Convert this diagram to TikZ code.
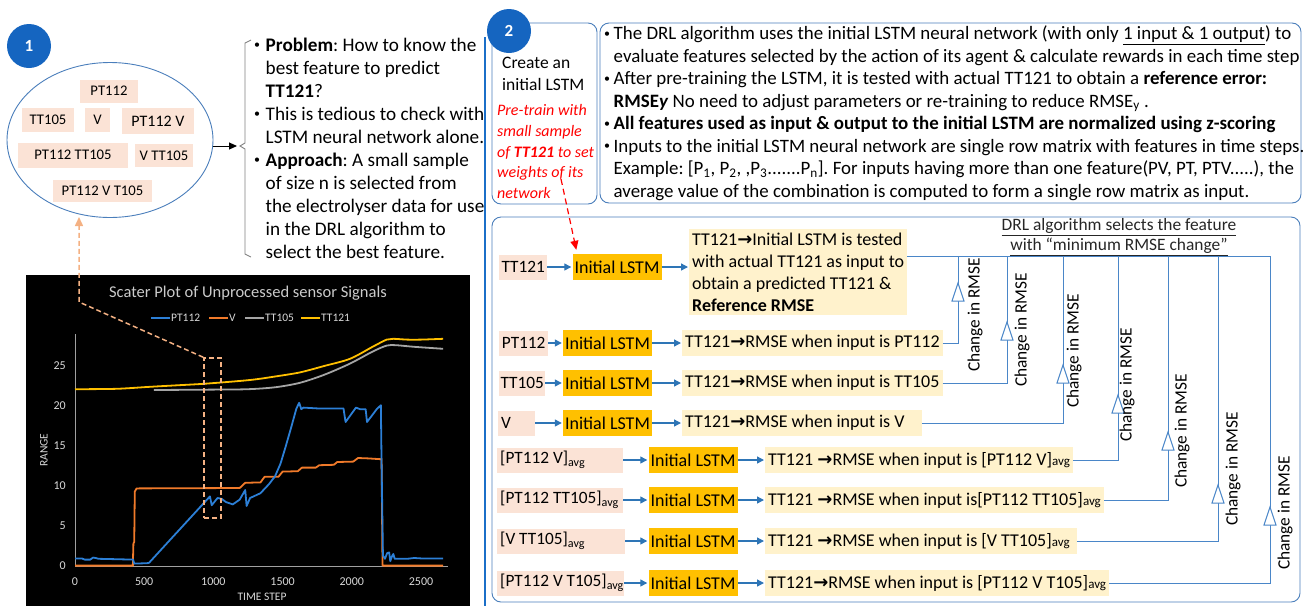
\documentclass[tikz,border=0pt]{standalone}
\usepackage{fontspec}
\setmainfont{Carlito}
\newfontfamily\arrowfont{DejaVu Sans}
\usetikzlibrary{arrows.meta,shapes.geometric}

\definecolor{pinkfill}{HTML}{FBE3D6}
\definecolor{lstmfill}{HTML}{FFC000}
\definecolor{descfill}{HTML}{FFF2CC}
\definecolor{arrowblue}{HTML}{2E75B6}
\definecolor{connblue}{HTML}{4A86C8}
\definecolor{panelblue}{HTML}{4A7EBB}
\definecolor{discblue}{HTML}{1565C0}
\definecolor{edgeblue}{HTML}{1B6FC8}
\definecolor{peach}{HTML}{F4B183}
\definecolor{chartblue}{HTML}{2C7FD6}
\definecolor{chartorange}{HTML}{F07A2A}
\definecolor{chartgray}{HTML}{A5A5A5}
\definecolor{chartyellow}{HTML}{FFC000}
\definecolor{axisgray}{HTML}{A0A0A0}
\definecolor{ticktext}{HTML}{D9D9D9}
\definecolor{bracketgray}{HTML}{808080}
\definecolor{redtext}{HTML}{FF0000}
\definecolor{headgray}{HTML}{262626}

\newcommand\myfs[2]{\fontsize{#1}{#2}\selectfont}
\newcommand\featarrow{{\arrowfont\bfseries\char"2192}}
\newcommand\avgtext{{\myfs{13}{13}avg}}
\newcommand\bulw[1]{\makebox[#1][l]{\raisebox{0.12em}{\myfs{12}{12}\textbullet}}}

\begin{document}
\frenchspacing
\begin{tikzpicture}[x=1pt,y=-1pt,
  lblbox/.style={fill=pinkfill, inner xsep=3pt, inner ysep=0pt, minimum height=25pt, font={\myfs{17.3}{20}}, anchor=west},
  lstmbox/.style={fill=lstmfill, minimum width=89pt, minimum height=26pt, inner sep=0pt, font={\myfs{18}{20}}},
  descbox/.style={fill=descfill, inner xsep=3pt, inner ysep=0pt, minimum height=26pt, anchor=west, font={\myfs{18}{22}}, align=left},
  rowarrow/.style={draw=arrowblue, line width=1.3pt, shorten >=1pt, -{Triangle[length=7pt,width=7pt]}},
  conn/.style={draw=connblue, line width=1pt},
  rmsetag/.style={rotate=90, font={\myfs{17.3}{20}}, inner sep=0pt},
  featbox/.style={fill=pinkfill, inner sep=0pt, font={\myfs{14.7}{17}}},
  numdisc/.style={circle, fill=discblue, text=white, font={\myfs{17}{20}\bfseries}, minimum size=44pt, inner sep=0pt},
  panel/.style={draw=panelblue, line width=0.9pt, rounded corners=9pt, inner sep=0pt},
  peachline/.style={draw=peach, line width=1.5pt, dash pattern=on 5pt off 3pt},
  ticklbl/.style={text=ticktext, font={\myfs{12}{14}}, inner sep=0pt},
  legtext/.style={text=ticktext, font={\myfs{11.5}{13}}, inner sep=1pt, anchor=west}
]
\useasboundingbox (0,0) rectangle (1304,606);

% ---------------- panel 1: candidate features ----------------
\node[draw=panelblue, ellipse, minimum width=206pt, minimum height=155pt, line width=0.9pt] (ell) at (110,140) {};
\node[numdisc] (n1) at (29,46) {1};

\node[featbox, minimum width=58pt, minimum height=23pt] (f1) at (109,91) {PT112};
\node[featbox, minimum width=52pt, minimum height=24pt] (f2) at (48,120) {TT105};
\node[featbox, minimum width=25pt, minimum height=24pt] (f3) at (97.5,120) {V};
\node[featbox, minimum width=72pt, minimum height=26pt, font={\myfs{16}{18}}] (f4) at (158,121) {PT112 V};
\node[featbox, minimum width=110pt, minimum height=25pt] (f5) at (73,155) {PT112 TT105};
\node[featbox, minimum width=58pt, minimum height=23pt] (f6) at (164,155.5) {V TT105};
\node[featbox, minimum width=99pt, minimum height=22pt] (f7) at (102.5,191) {PT112 V T105};

\coordinate (brk) at (237,146);
\draw[line width=1pt, -{Triangle[length=8pt,width=7pt]}] (ell.east |- brk) -- (brk);
\draw[bracketgray, line width=0.9pt] (251,40) -- (245,43) -- (245,143) -- (240,146) -- (245,149) -- (245,254) -- (251,257);

\node[anchor=west, align=left, inner sep=0pt, font={\myfs{19.2}{23}}] (probtext) at (254,148) {%
\bulw{11.5pt}\textbf{Problem}: How to know the\\
\hspace*{11.5pt}best feature to predict\\
\hspace*{11.5pt}\textbf{TT121}?\\
\bulw{11.5pt}This is tedious to check with\\
\hspace*{11.5pt}LSTM neural network alone.\\
\bulw{11.5pt}\textbf{Approach}: A small sample\\
\hspace*{11.5pt}of size n is selected from\\
\hspace*{11.5pt}the electrolyser data for use\\
\hspace*{11.5pt}in the DRL algorithm to\\
\hspace*{11.5pt}select the best feature.};

% ---------------- sensor chart ----------------
\fill[black] (26,275) rectangle (470,606);
\node[text=ticktext!85!gray, font={\myfs{16.5}{18}}] (ctitle) at (248,293) {Scater Plot of Unprocessed sensor Signals};
\draw[chartblue, line width=2pt] (151,318) -- (170,318);
\node[legtext] (lg1) at (170,318) {PT112};
\draw[chartorange, line width=2pt] (209,318) -- (228,318);
\node[legtext] (lg2) at (228,318) {V};
\draw[chartgray, line width=2pt] (245,318) -- (264,318);
\node[legtext] (lg3) at (264,318) {TT105};
\draw[chartyellow, line width=2pt] (301,318) -- (320,318);
\node[legtext] (lg4) at (320,318) {TT121};
\node[text=ticktext, font={\myfs{11.5}{13}}, rotate=90] (ylab) at (44,450) {RANGE};
\node[text=ticktext, font={\myfs{11.5}{13}}] (xlab) at (262,597) {TIME STEP};

\begin{scope}[shift={(75,566)}, x=0.1384pt, y=8pt]
  \draw[axisgray, line width=1pt] (0,0) -- (0,29);
  \draw[axisgray, line width=1pt] (0,0) -- (2695,0);
  \foreach \v in {0,5,...,25} \node[ticklbl, anchor=east] at (-65,\v) {\v};
  \foreach \t in {0,500,...,2500} \node[ticklbl] at (\t,-1.9) {\t};
  \draw[chartgray, line width=1.8pt] plot[smooth, tension=0.5] coordinates {
    (570,22.0) (1000,22.05) (1250,22.1) (1450,22.35) (1625,22.9) (1800,23.9) (1987,25.3)
    (2150,26.8) (2252,27.55) (2320,27.6) (2450,27.4) (2660,27.15)};
  \draw[chartyellow, line width=1.8pt] plot[smooth, tension=0.5] coordinates {
    (0,22.1) (300,22.15) (542,22.4) (750,22.6) (951,22.8) (1264,23.25) (1450,23.7) (1625,24.2)
    (1800,25.0) (1987,25.9) (2150,27.4) (2252,28.3) (2300,28.4) (2400,28.3) (2500,28.3) (2660,28.4)};
  \draw[chartorange, line width=1.8pt, line join=round] plot coordinates {
    (0,0.05) (418,0.05) (422,2.8) (428,3) (432,9.3) (445,9.7) (1190,9.75) (1230,10.4) (1340,10.45)
    (1370,11.15) (1470,11.15) (1500,11.8) (1610,11.85) (1640,12.3) (1740,12.3) (1765,12.6)
    (1870,12.65) (1895,13.0) (2010,13.05) (2045,13.5) (2120,13.45) (2210,13.35) (2215,13.4)
    (2222,0.05) (2660,0.05)};
  \draw[chartblue, line width=1.8pt, line join=round] plot coordinates {
    (0,0.95) (50,0.95) (70,0.8) (110,0.8) (130,1.05) (150,1.0) (170,0.9) (300,0.85) (420,0.8)
    (428,0.3) (520,0.35) (535,0.4) (975,8.7) (988,7.6) (1030,8.5) (1060,8.4) (1090,8.0)
    (1140,7.7) (1190,8.3) (1230,9.5) (1240,7.5) (1265,8.5) (1340,9.1) (1400,10.2) (1445,11.2)
    (1485,12.8) (1520,14.8) (1560,17.2) (1600,19.7) (1620,20.4) (1635,19.6) (1650,19.8)
    (1750,19.7) (1940,19.7) (1955,18.0) (2030,19.8) (2060,19.6) (2100,19.6) (2110,18.0)
    (2180,19.6) (2210,20.1) (2215,13) (2225,1.3) (2240,0.9) (2255,1.6) (2270,1.7) (2278,0.6)
    (2290,1.2) (2300,1.5) (2310,0.9) (2400,0.9) (2450,1.0) (2500,0.95) (2660,0.95)};
\end{scope}

\node[peachline, minimum width=17pt, minimum height=160pt, inner sep=0pt] (zoomrect) at (212.5,438) {};
\coordinate (bend) at (79,302);
\coordinate (elltip) at (79,217);
\draw[peachline, -{Triangle[length=9pt,width=8pt]}] (zoomrect.north west) -- (bend) -- (elltip);

% ---------------- panel 2: DRL feature selection ----------------
\draw[edgeblue, line width=2.5pt] (485,37) -- (485,606);

\node[panel, minimum width=105pt, minimum height=181pt] (cbox) at (544.5,113.5) {};
\node[panel, minimum width=701pt, minimum height=180pt] (tbox) at (950.5,113) {};
\node[panel, minimum width=808pt, minimum height=385pt] (lbox) at (896,409.5) {};
\node[numdisc] (n2) at (509,31) {2};

\node[anchor=west, align=left, inner sep=0pt, font={\myfs{17.5}{22}}] (ctext) at (502,74) {Create an\\initial LSTM};
\node[anchor=west, align=left, inner sep=0pt, text=redtext, font={\myfs{16}{20.8}\itshape}] (rtext) at (497,151.5)
  {Pre-train with\\small sample\\of \textbf{TT121} to set\\weights of its\\network};

\node[anchor=west, align=left, inner sep=0pt, font={\myfs{18.9}{22.5}}] (ttext) at (604,113) {%
\bulw{9.5pt}The DRL algorithm uses the initial LSTM neural network (with only \underline{1 input \& 1 output}) to\\
\hspace*{9.5pt}evaluate features selected by the action of its agent \& calculate rewards in each time step\\
\bulw{9.5pt}After pre-training the LSTM, it is tested with actual TT121 to obtain a \textbf{reference error:}\\
\hspace*{9.5pt}\textbf{RMSE\textit{y}} No need to adjust parameters or re-training to reduce RMSE\textsubscript{y} .\\
\bulw{9.5pt}\textbf{All features used as input \& output to the initial LSTM are normalized using z-scoring}\\
\bulw{9.5pt}Inputs to the initial LSTM neural network are single row matrix with features in time steps.\\
\hspace*{9.5pt}Example: [P\textsubscript{1}, P\textsubscript{2}, ,P\textsubscript{3}.......P\textsubscript{n}]. For inputs having more than one feature(PV, PT, PTV.....), the\\
\hspace*{9.5pt}average value of the combination is computed to form a single row matrix as input.};

% inputs
\node[lblbox] (l0) at (499,267) {\makebox[42pt]{TT121}};
\node[lblbox] (l1) at (499,343) {\makebox[43pt]{PT112}};
\node[lblbox] (l2) at (499,383) {\makebox[40pt]{TT105}};
\node[lblbox] (l3) at (498,423) {\makebox[31pt][l]{V}};
\node[lblbox] (l4) at (497,460) {\makebox[120pt][l]{[PT112 V]\textsubscript{avg}}};
\node[lblbox] (l5) at (497,500) {\makebox[120pt][l]{[PT112 TT105]\textsubscript{avg}}};
\node[lblbox] (l6) at (497,541) {\makebox[122pt][l]{[V TT105]\textsubscript{avg}}};
\node[lblbox] (l7) at (497,583) {\makebox[121pt][l]{[PT112 V T105]\textsubscript{avg}}};

% networks
\node[lstmbox] (m0) at (617,267) {Initial LSTM};
\node[lstmbox] (m1) at (607.5,343) {Initial LSTM};
\node[lstmbox] (m2) at (607.5,383) {Initial LSTM};
\node[lstmbox] (m3) at (607.5,423) {Initial LSTM};
\node[lstmbox] (m4) at (693,460) {Initial LSTM};
\node[lstmbox] (m5) at (693,500) {Initial LSTM};
\node[lstmbox] (m6) at (693,541) {Initial LSTM};
\node[lstmbox] (m7) at (693,583) {Initial LSTM};

% outcomes
\node[descbox, inner ysep=4pt] (d0) at (689,272) {TT121\featarrow Initial LSTM is tested\\with actual TT121 as input to\\obtain a predicted TT121 \&\\\textbf{Reference RMSE}};
\node[descbox] (d1) at (682,343) {TT121\featarrow RMSE when input is PT112};
\node[descbox] (d2) at (682,383) {TT121\featarrow RMSE when input is TT105};
\node[descbox] (d3) at (682,423) {TT121\featarrow RMSE when input is V\hspace{14pt}};
\node[descbox] (d4) at (765,460) {TT121 \featarrow RMSE when input is [PT112 V]\avgtext};
\node[descbox] (d5) at (765,500) {TT121 \featarrow RMSE when input is[PT112 TT105]\avgtext};
\node[descbox] (d6) at (765,541) {TT121 \featarrow RMSE when input is [V TT105]\avgtext\hspace{4pt}};
\node[descbox] (d7) at (765,583) {TT121\featarrow RMSE when input is [PT112 V T105]\avgtext};

\coordinate (pre) at (561,179);
\draw[redtext, line width=1.2pt, dash pattern=on 6pt off 4pt, -{Triangle[length=9pt,width=8pt]}] (pre) -- ([xshift=4pt,yshift=4pt]m0.north west);

\draw[rowarrow] (l0) -- (m0);
\draw[rowarrow] (m0.east) -- (m0.east -| d0.west);
\foreach \i in {1,...,7} {
  \draw[rowarrow] (l\i) -- (m\i);
  \draw[rowarrow] (m\i) -- (d\i);
}

% comparison lines to the selector
\node[font={\myfs{17.4}{20}}, text=headgray, align=center, inner sep=0pt] (head) at (1119,237)
  {\underline{DRL algorithm selects the feature}\\\underline{with “minimum RMSE change”}};
\coordinate (t1) at (958,256);
\coordinate (t2) at (1007,256);
\coordinate (t3) at (1063,256);
\coordinate (t4) at (1118,256);
\coordinate (t5) at (1168,256);
\coordinate (t6) at (1218,256);
\coordinate (t7) at (1270,256);
\draw[conn] (d0.east |- t1) -- (t7);
\foreach \i in {1,...,7} \draw[conn] (d\i.east) -| (t\i);

\foreach \x/\y in {958/283, 1007/322, 1063/365, 1118/395, 1168/432, 1218/485, 1270/507}
  \filldraw[conn, fill=white, line join=miter] (\x,\y) -- ++(6,18) -- ++(-12,0) -- cycle;

\node[rmsetag] (g1) at (975,315) {Change in RMSE};
\node[rmsetag] (g2) at (1022,330) {Change in RMSE};
\node[rmsetag] (g3) at (1074,351) {Change in RMSE};
\node[rmsetag] (g4) at (1127,385) {Change in RMSE};
\node[rmsetag] (g5) at (1182,431) {Change in RMSE};
\node[rmsetag] (g6) at (1233,469) {Change in RMSE};
\node[rmsetag] (g7) at (1285,513) {Change in RMSE};
\end{tikzpicture}
\end{document}
